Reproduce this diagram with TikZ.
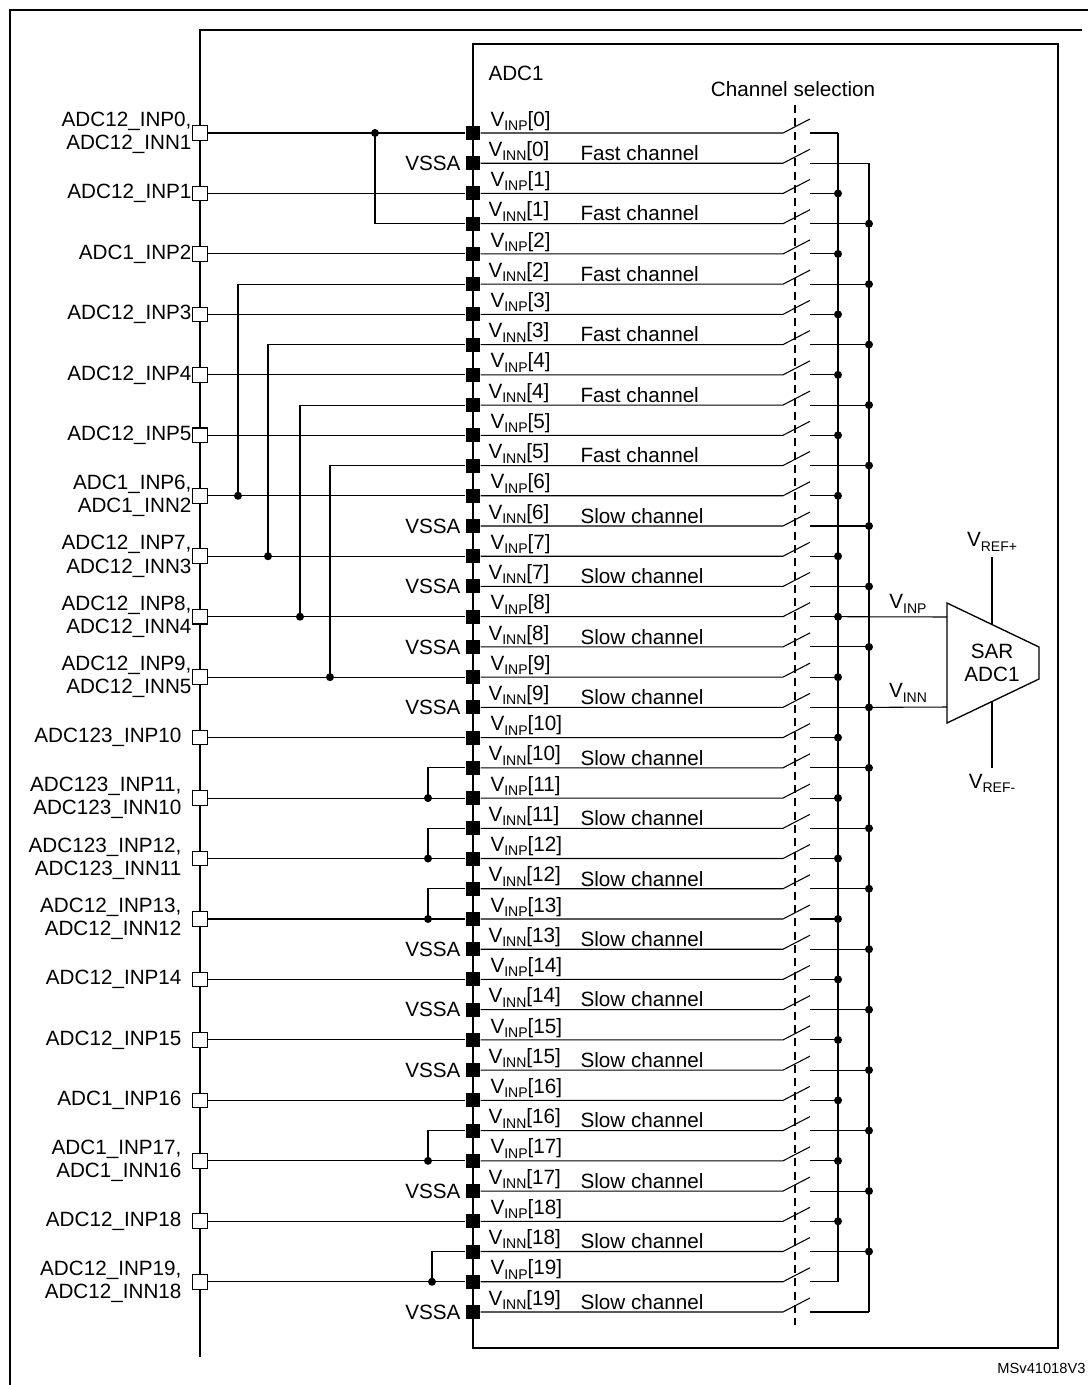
\documentclass[tikz,border=0pt]{standalone}
\usepackage{fontspec}
\setmainfont{Liberation Sans}
\newcommand\vsb[1]{V\raisebox{-0.4ex}{\fontsize{10.5pt}{10pt}\selectfont #1}}
\begin{document}
\begin{tikzpicture}[x=0.75pt,y=-0.75pt,font=\fontsize{15.5pt}{17.5pt}\selectfont,line width=0.8pt,
  frame/.style={line width=1.6pt},
  pinbox/.style={fill=black,minimum size=10.5pt,inner sep=0pt},
  padbox/.style={draw,fill=white,line width=0.8pt,minimum size=11pt,inner sep=0pt},
  dotj/.style={circle,fill=black,minimum size=6pt,inner sep=0pt},
  lbl/.style={inner sep=0pt}]
\useasboundingbox (0,0) rectangle (1088,1385);
% frames
\draw[frame] (10,1385) -- (10,10) -- (1088,10);
\draw[frame] (200,1357) -- (200,30) -- (1082,30);
\draw[frame] (473,44) rectangle (1058,1348);
\node[lbl,anchor=west] (adc) at (488,73) {ADC1};
\node[lbl] (chs) at (793,89) {Channel selection};
\draw[dashed,line width=0.8pt,dash pattern=on 6pt off 4pt] (795,105) -- (795,1325);
% pins and switches
\foreach \i in {0,...,39}{
  \pgfmathsetmacro\y{133+30.23*\i}
  \pgfmathtruncatemacro\k{\i/2}
  \pgfmathtruncatemacro\odd{mod(\i,2)}
  \node[pinbox] (p\i) at (473,\y) {};
  \coordinate (s\i) at (783,\y);
  \coordinate (t\i) at (810,\y);
  \draw (p\i.east) -- (s\i) -- ++(27,-14);
  \ifnum\odd=0
    \node[lbl,anchor=south west] at (490,\y-2) {\vsb{INP}[\k]};
    \coordinate (b\i) at (838,\y);
  \else
    \node[lbl,anchor=south west] at (488,\y-2) {\vsb{INN}[\k]};
    \coordinate (b\i) at (869,\y);
  \fi
  \draw (t\i) -- (b\i);
}
% fast/slow labels
\foreach \i in {1,3,...,11}{\pgfmathsetmacro\y{133+30.23*\i}\node[lbl,anchor=south west] at (580,\y-2) {Fast channel};}
\foreach \i in {13,15,...,39}{\pgfmathsetmacro\y{133+30.23*\i}\node[lbl,anchor=south west] at (580,\y-2) {Slow channel};}
% buses
\draw (b0) -- (b38);
\draw (b1) -- (b39);
\foreach \i in {2,4,...,36}{\node[dotj] at (b\i) {};}
\foreach \i in {3,5,...,37}{\node[dotj] at (b\i) {};}
% VSSA
\foreach \i in {1,13,15,17,19,27,29,31,35,39}{\pgfmathsetmacro\y{133+30.23*\i}\node[lbl,anchor=east] at (461,\y) {VSSA};}
% pads
\foreach \k/\txt in {0/{ADC12\_INP0,\\ADC12\_INN1},1/{ADC12\_INP1},2/{ADC1\_INP2},3/{ADC12\_INP3},4/{ADC12\_INP4},5/{ADC12\_INP5},6/{ADC1\_INP6,\\ADC1\_INN2},7/{ADC12\_INP7,\\ADC12\_INN3},8/{ADC12\_INP8,\\ADC12\_INN4},9/{ADC12\_INP9,\\ADC12\_INN5},10/{ADC123\_INP10},11/{ADC123\_INP11,\\ADC123\_INN10},12/{ADC123\_INP12,\\ADC123\_INN11},13/{ADC12\_INP13,\\ADC12\_INN12},14/{ADC12\_INP14},15/{ADC12\_INP15},16/{ADC1\_INP16},17/{ADC1\_INP17,\\ADC1\_INN16},18/{ADC12\_INP18},19/{ADC12\_INP19,\\ADC12\_INN18}}{
  \pgfmathtruncatemacro\r{2*\k}
  \pgfmathsetmacro\y{133+30.23*\r}
  \node[padbox] (pad\k) at (200,\y) {};
  \ifnum\k<10
    \node[lbl,anchor=east,align=right] at (192,\y) {\txt};
  \else
    \node[lbl,anchor=east,align=right] at (182,\y) {\txt};
  \fi
  \draw (pad\k.east) -- (p\r.west);
}
% cross connections
\foreach \a/\b/\x in {0/3/375,12/5/238,14/7/268,16/9/300,18/11/330,22/21/428,24/23/428,26/25/428,34/33/428,38/37/432}{
  \pgfmathsetmacro\y{133+30.23*\a}
  \node[dotj] (d\a) at (\x,\y) {};
  \draw (d\a.center) |- (p\b.west);
}
% SAR ADC
\draw[line width=1pt] (947,603) coordinate (ta) -- (1039,647) -- (1039,679) -- (947,723) -- cycle;
\node[align=center,inner sep=0pt,font=\fontsize{15.5pt}{17pt}\selectfont] (sar) at (992,663) {SAR\\ADC1};
\coordinate (inp) at (947,617);
\coordinate (inn) at (947,707);
\draw (b16) -- (inp);
\draw (b19) -- (inn);
\node[lbl] at (908,604) {\vsb{INP}};
\node[lbl] at (908,693) {\vsb{INN}};
\coordinate (rp) at (992,625);
\coordinate (rm) at (992,701);
\draw (rp) -- (992,557) node[lbl,above=4pt] {\vsb{REF+}};
\draw (rm) -- (992,768) node[lbl,below=4pt] {\vsb{REF-}};
\node[lbl,anchor=east,font=\fontsize{11pt}{12pt}\selectfont] at (1086,1368) {MSv41018V3};
\end{tikzpicture}
\end{document}
